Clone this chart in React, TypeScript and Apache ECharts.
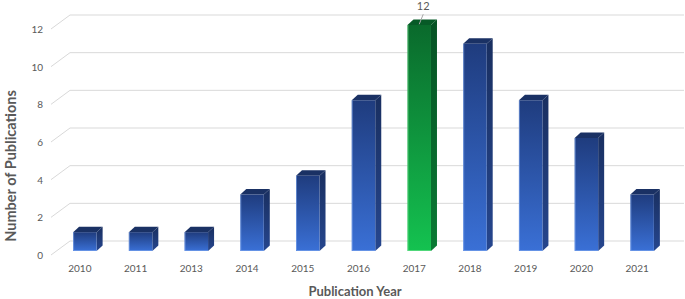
import React, { useEffect, useRef } from "react";
import * as echarts from "echarts";

const years = ["2010", "2011", "2013", "2014", "2015", "2016", "2017", "2018", "2019", "2020", "2021"];
const publications = [1, 1, 1, 3, 4, 8, 12, 11, 8, 6, 3];
const yTicks = [0, 2, 4, 6, 8, 10, 12];
const highlightYear = "2017";

const FONT = "Lato, 'Open Sans', sans-serif";
const GRAY = "#595959";

export default function App() {
  const ref = useRef<HTMLDivElement>(null);
  useEffect(() => {
    document.body.style.margin = "0";
    const chart = echarts.init(ref.current!, undefined, { renderer: "svg" });
    const wallDx = 19;
    const wallDy = -14;
    const barShiftX = 5;
    const barShiftY = -4;
    const barW = 23.5;
    const depthX = 6;
    const depthY = -5.5;

    const option: any = {
      animation: false,
      backgroundColor: "#ffffff",
      grid: { left: 52, right: 20, top: 29, bottom: 44 },
      xAxis: {
        type: "category",
        data: years,
        axisLine: { show: false },
        axisTick: { show: false },
        axisLabel: { color: GRAY, fontSize: 10, fontFamily: FONT, margin: 8 },
      },
      yAxis: {
        type: "value",
        min: 0,
        max: 12,
        interval: 2,
        axisLine: { show: false },
        axisTick: { show: false },
        splitLine: { show: false },
        axisLabel: { color: GRAY, fontSize: 10, fontFamily: FONT, margin: 9 },
      },
      graphic: [
        {
          type: "text",
          x: 10,
          y: 166,
          rotation: Math.PI / 2,
          style: {
            text: "Number of Publications",
            fill: GRAY,
            font: `bold 14.5px ${FONT}`,
            textAlign: "center",
            textVerticalAlign: "middle",
          },
        },
        {
          type: "text",
          x: 355,
          y: 291,
          style: {
            text: "Publication Year",
            fill: GRAY,
            font: `bold 13px ${FONT}`,
            textAlign: "center",
            textVerticalAlign: "middle",
          },
        },
      ],
      series: [
        {
          type: "custom",
          silent: true,
          z: 1,
          data: yTicks.map((v) => [0, v]),
          renderItem: (params: any, api: any) => {
            const cs = params.coordSys;
            const y = api.coord([0, api.value(1)])[1];
            return {
              type: "polyline",
              shape: {
                points: [
                  [cs.x - 1, y],
                  [cs.x - 1 + wallDx, y + wallDy],
                  [cs.x + cs.width + wallDx, y + wallDy],
                ],
              },
              style: { stroke: "#d9d9d9", lineWidth: 1, fill: "none" },
            };
          },
        },
        {
          type: "custom",
          z: 2,
          data: publications.map((v, i) => [i, v]),
          renderItem: (params: any, api: any) => {
            const i = api.value(0);
            const v = api.value(1);
            const p0 = api.coord([i, 0]);
            const p1 = api.coord([i, v]);
            const cx = p0[0] + barShiftX;
            const xl = cx - barW / 2;
            const xr = cx + barW / 2;
            const yb = p0[1] + barShiftY;
            const yt = p1[1] + barShiftY;
            const green = years[i] === highlightYear;
            const front = green
              ? new echarts.graphic.LinearGradient(0, 0, 0, 1, [
                  { offset: 0, color: "#0a6a2c" },
                  { offset: 1, color: "#14c250" },
                ])
              : new echarts.graphic.LinearGradient(0, 0, 0, 1, [
                  { offset: 0, color: "#1f3c7e" },
                  { offset: 1, color: "#3a70d6" },
                ]);
            const side = green
              ? new echarts.graphic.LinearGradient(0, 0, 0, 1, [
                  { offset: 0, color: "#065224" },
                  { offset: 1, color: "#0a7a34" },
                ])
              : new echarts.graphic.LinearGradient(0, 0, 0, 1, [
                  { offset: 0, color: "#192f60" },
                  { offset: 1, color: "#26468e" },
                ]);
            const topColor = green ? "#075a27" : "#1a3164";
            const children: any[] = [
              {
                type: "polygon",
                shape: {
                  points: [
                    [xr, yt],
                    [xr + depthX, yt + depthY],
                    [xr + depthX, yb + depthY],
                    [xr, yb],
                  ],
                },
                style: { fill: side },
              },
              {
                type: "polygon",
                shape: {
                  points: [
                    [xl, yt],
                    [xl + depthX, yt + depthY],
                    [xr + depthX, yt + depthY],
                    [xr, yt],
                  ],
                },
                style: { fill: topColor },
              },
              {
                type: "rect",
                shape: { x: xl, y: yt, width: barW, height: yb - yt },
                style: { fill: front },
              },
              {
                type: "polyline",
                shape: { points: [[xl + 0.5, yt], [xl + 0.5, yb - 0.5], [xr, yb - 0.5]] },
                style: { stroke: green ? "rgba(120,230,150,0.6)" : "rgba(130,170,240,0.6)", lineWidth: 1, fill: "none" },
              },
            ];
            if (green) {
              const lx = cx + depthX / 2 - 3;
              const ly = yt + depthY / 2 + 2;
              children.push(
                {
                  type: "line",
                  shape: { x1: lx, y1: ly, x2: lx + 4, y2: ly - 10 },
                  style: { stroke: "#a6a6a6", lineWidth: 1 },
                },
                {
                  type: "text",
                  x: lx + 4,
                  y: ly - 19,
                  style: {
                    text: String(v),
                    fill: GRAY,
                    font: `11px ${FONT}`,
                    textAlign: "center",
                    textVerticalAlign: "middle",
                  },
                }
              );
            }
            return { type: "group", children };
          },
        },
      ],
    };
    chart.setOption(option);
    return () => chart.dispose();
  }, []);
  return <div ref={ref} style={{ width: 685, height: 299 }} />;
}
